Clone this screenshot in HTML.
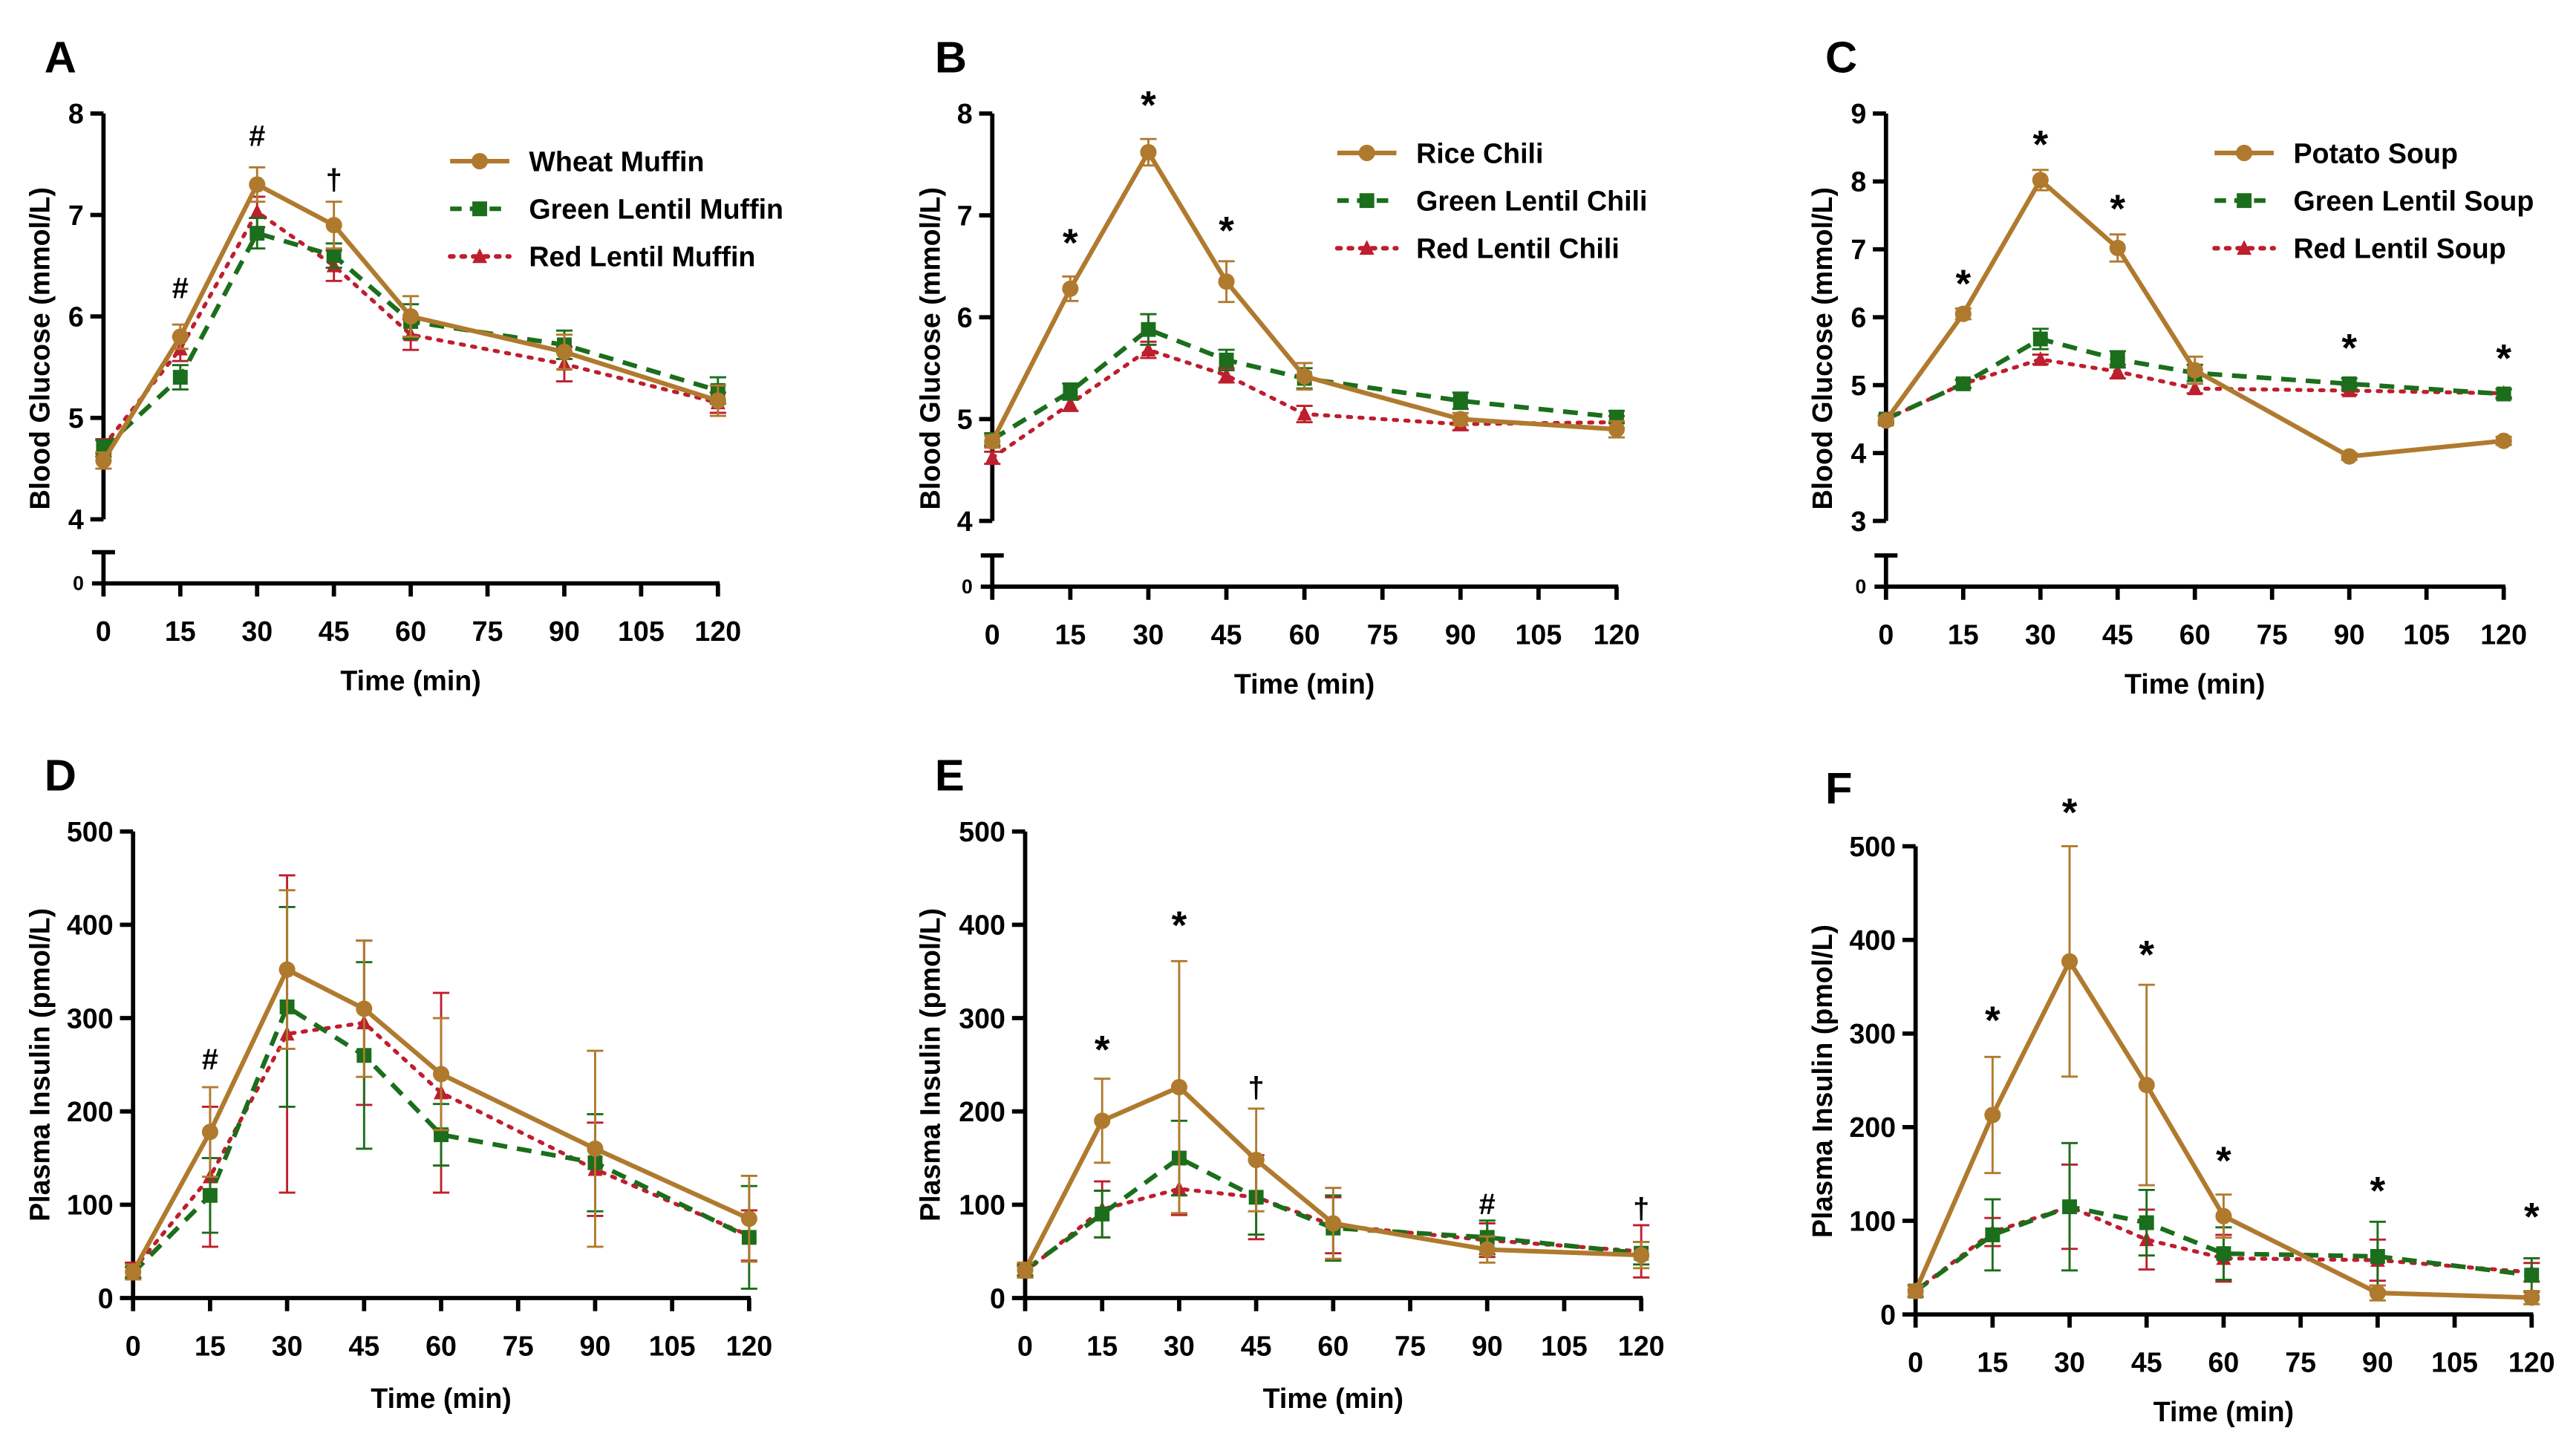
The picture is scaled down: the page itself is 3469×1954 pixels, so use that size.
<!DOCTYPE html>
<html><head><meta charset="utf-8">
<style>
html,body{margin:0;padding:0;background:#fff;}
svg{display:block;}
text{font-family:"Liberation Sans",Arial,sans-serif;font-weight:bold;fill:#000;}
</style></head>
<body>
<svg id="fig" width="3469" height="1954" viewBox="0 0 1568 883" xmlns="http://www.w3.org/2000/svg"></svg>
<script>
// ---------- data ----------
const times = [0, 15, 30, 45, 60, 90, 120];
const xTickLabels = [0, 15, 30, 45, 60, 75, 90, 105, 120];

// Panel A
const aWheat = [4.58, 5.80, 7.30, 6.90, 6.00, 5.65, 5.17];
const aWheatErr = [0.08, 0.12, 0.17, 0.23, 0.2, 0.17, 0.15];
const aGreen = [4.70, 5.40, 6.82, 6.60, 5.95, 5.72, 5.27];
const aGreenErr = [0.08, 0.12, 0.15, 0.12, 0.17, 0.14, 0.13];
const aRed = [4.72, 5.68, 7.03, 6.50, 5.82, 5.53, 5.15];
const aRedErr = [0.07, 0.12, 0.15, 0.15, 0.15, 0.17, 0.1];
const aAnnX = [15, 30, 45];
const aAnnY = [6.18, 7.68, 7.25];
const aAnnSym = ["#", "#", "†"];

// Panel B
const bRice = [4.78, 6.28, 7.62, 6.35, 5.42, 5.00, 4.90];
const bRiceErr = [0.06, 0.12, 0.13, 0.2, 0.13, 0.06, 0.08];
const bGreen = [4.80, 5.27, 5.88, 5.58, 5.40, 5.18, 5.02];
const bGreenErr = [0.06, 0.08, 0.15, 0.1, 0.1, 0.08, 0.06];
const bRed = [4.62, 5.15, 5.68, 5.43, 5.05, 4.95, 4.97];
const bRedErr = [0.06, 0.07, 0.08, 0.07, 0.08, 0.06, 0.06];
const bAnnX = [15, 30, 45];
const bAnnY = [6.6, 7.95, 6.72];
const bAnnSym = ["*", "*", "*"];

// Panel C
const cPotato = [4.48, 6.05, 8.02, 7.02, 5.22, 3.95, 4.18];
const cPotatoErr = [0.06, 0.08, 0.15, 0.2, 0.2, 0.05, 0.06];
const cGreen = [4.50, 5.02, 5.68, 5.38, 5.18, 5.02, 4.87];
const cGreenErr = [0.05, 0.06, 0.15, 0.12, 0.12, 0.08, 0.07];
const cRed = [4.50, 5.02, 5.38, 5.20, 4.95, 4.92, 4.88];
const cRedErr = [0.05, 0.06, 0.07, 0.1, 0.07, 0.06, 0.06];
const cAnnX = [15, 30, 45, 90, 120];
const cAnnY = [6.3, 8.35, 7.4, 5.35, 5.2];
const cAnnSym = ["*", "*", "*", "*", "*"];

// Panel D
const dWheat = [28, 178, 352, 310, 240, 160, 85];
const dWheatErr = [8, 48, 85, 73, 60, 105, 46];
const dGreen = [27, 110, 312, 260, 175, 145, 65];
const dGreenErr = [6, 40, 107, 100, 33, 52, 55];
const dRed = [30, 130, 283, 295, 220, 138, 67];
const dRedErr = [8, 75, 170, 88, 107, 50, 27];
const dAnnX = [15];
const dAnnY = [245];
const dAnnSym = ["#"];

// Panel E
const eRice = [30, 190, 226, 148, 80, 52, 46];
const eRiceErr = [8, 45, 135, 55, 38, 14, 14];
const eGreen = [30, 90, 150, 108, 75, 65, 48];
const eGreenErr = [6, 25, 40, 40, 35, 18, 12];
const eRed = [28, 95, 117, 108, 78, 62, 50];
const eRedErr = [6, 30, 28, 45, 30, 18, 28];
const eAnnX = [15, 30, 45, 90, 120];
const eAnnY = [252, 385, 215, 90, 85];
const eAnnSym = ["*", "*", "†", "#", "†"];

// Panel F
const fPotato = [25, 213, 377, 245, 105, 23, 18];
const fPotatoErr = [6, 62, 123, 107, 23, 8, 7];
const fGreen = [25, 85, 115, 98, 65, 62, 42];
const fGreenErr = [6, 38, 68, 35, 28, 37, 18];
const fRed = [25, 88, 115, 80, 60, 58, 45];
const fRedErr = [6, 15, 45, 32, 25, 22, 10];
const fAnnX = [15, 30, 45, 60, 90, 120];
const fAnnY = [300, 522, 370, 150, 118, 90];
const fAnnSym = ["*", "*", "*", "*", "*", "*"];

// ---------- drawing ----------
const NS = "http://www.w3.org/2000/svg";
const svg = document.getElementById("fig");
const BROWN = "#B07A2E", GREEN = "#1B6E1B", RED = "#BE1E2D";

function mk(tag, attrs, parent) {
  const e = document.createElementNS(NS, tag);
  for (const k in attrs) e.setAttribute(k, attrs[k]);
  (parent || svg).appendChild(e);
  return e;
}
function txt(str, x, y, size, anchor, parent) {
  const t = mk("text", {x: x, y: y, "font-size": size, "text-anchor": anchor || "middle"}, parent);
  t.textContent = str;
  return t;
}

function drawPanel(cfg) {
  const g = mk("g", {});
  
  
  const xs = t => cfg.x0 + (t / 120) * (cfg.x1 - cfg.x0);
  const ys = v => {
    if (cfg.glucose) return cfg.yTopPx + (cfg.yTopVal - v) * (cfg.yLowPx - cfg.yTopPx) / (cfg.yTopVal - cfg.yLowVal);
    return cfg.zeroPx - v * (cfg.zeroPx - cfg.topPx) / 500;
  };
  const axisY = cfg.glucose ? cfg.zeroPx : cfg.zeroPx;

  const lt = txt(cfg.letter, cfg.lx, cfg.ly, 27, "start", g);
  
  

  // axes
  const ax = mk("g", {stroke: "#000", "stroke-width": 2.6, fill: "none"}, g);
  
  
  mk("line", {x1: cfg.x0 - 1, y1: axisY, x2: cfg.x1 + 1, y2: axisY}, ax);
  xTickLabels.forEach(t => {
    mk("line", {x1: xs(t), y1: axisY, x2: xs(t), y2: axisY + 8}, ax);
    const l = txt(String(t), xs(t), cfg.xLabY, 17, "middle", g);
    
    
  });
  if (cfg.glucose) {
    mk("line", {x1: cfg.x0, y1: cfg.yTopPx, x2: cfg.x0, y2: cfg.yLowPx}, ax);
    mk("line", {x1: cfg.x0, y1: cfg.zeroPx - 19, x2: cfg.x0, y2: cfg.zeroPx}, ax);
    mk("line", {x1: cfg.x0 - 7, y1: cfg.zeroPx - 19, x2: cfg.x0 + 7, y2: cfg.zeroPx - 19}, ax);
    mk("line", {x1: cfg.x0 - 7, y1: cfg.zeroPx, x2: cfg.x0, y2: cfg.zeroPx}, ax);
    const l0 = txt("0", cfg.x0 - 12, cfg.zeroPx + 4, 12, "end", g);
    
    
    for (let v = cfg.yLowVal; v <= cfg.yTopVal; v++) {
      mk("line", {x1: cfg.x0 - 8, y1: ys(v), x2: cfg.x0, y2: ys(v)}, ax);
      const l = txt(String(v), cfg.x0 - 12, ys(v) + 6, 17, "end", g);
      
      
    }
  } else {
    mk("line", {x1: cfg.x0, y1: cfg.topPx, x2: cfg.x0, y2: cfg.zeroPx}, ax);
    for (let v = 0; v <= 500; v += 100) {
      mk("line", {x1: cfg.x0 - 8, y1: ys(v), x2: cfg.x0, y2: ys(v)}, ax);
      const l = txt(String(v), cfg.x0 - 12, ys(v) + 6, 17, "end", g);
      
      
    }
  }
  const xt = txt("Time (min)", (cfg.x0 + cfg.x1) / 2, cfg.xTitleY, 17, "middle", g);
  
  
  const yt = txt(cfg.yTitle, 0, 0, 17, "middle", g);
  yt.setAttribute("transform", `translate(${cfg.yTitleX},${cfg.yTitleC}) rotate(-90)`);
  
  

  // series (draw red, green, then main on top)
  const order = [2, 1, 0];
  order.forEach(i => {
    const s = cfg.series[i];
    const sg = mk("g", {}, g);
    
    
    // error bars
    s.vals.forEach((v, j) => {
      const x = xs(times[j]);
      const eb = mk("g", {stroke: s.color, "stroke-width": 1.3}, sg);
      
      
      mk("line", {x1: x, y1: ys(v - s.err[j]), x2: x, y2: ys(v + s.err[j])}, eb);
      mk("line", {x1: x - 5, y1: ys(v + s.err[j]), x2: x + 5, y2: ys(v + s.err[j])}, eb);
      mk("line", {x1: x - 5, y1: ys(v - s.err[j]), x2: x + 5, y2: ys(v - s.err[j])}, eb);
    });
    const pts = s.vals.map((v, j) => xs(times[j]) + "," + ys(v)).join(" ");
    const pl = mk("polyline", {points: pts, fill: "none", stroke: s.color, "stroke-width": s.dash === "dot" ? 2.4 : 2.8,
      "stroke-dasharray": s.dash === "solid" ? "none" : (s.dash === "dash" ? "9,6" : "2,5"), "stroke-linecap": s.dash === "dot" ? "round" : "butt"}, sg);
    
    
    s.vals.forEach((v, j) => {
      const m = marker(s.shape, xs(times[j]), ys(v), s.color, sg);
      
      
    });
  });

  // annotations
  cfg.annX.forEach((t, j) => {
    const a = txt(cfg.annSym[j], xs(t), ys(cfg.annY[j]), cfg.annSym[j] === "*" ? 24 : 18, "middle", g);
    
    
  });

  // legend
  if (cfg.legX) {
    cfg.series.forEach((s, i) => {
      const y = cfg.legY + i * 29;
      const lg = mk("g", {}, g);
      
      
      mk("line", {x1: cfg.legX, y1: y, x2: cfg.legX + 36, y2: y, stroke: s.color, "stroke-width": 2.8,
        "stroke-dasharray": s.dash === "solid" ? "none" : (s.dash === "dash" ? "7,5" : "2,5"), "stroke-linecap": s.dash === "dot" ? "round" : "butt"}, lg);
      marker(s.shape, cfg.legX + 18, y, s.color, lg);
      txt(s.name, cfg.legX + 48, y + 6, 17, "start", lg);
    });
  }
}

function marker(shape, x, y, color, parent) {
  if (shape === "circle") return mk("circle", {cx: x, cy: y, r: 5, fill: color}, parent);
  if (shape === "square") return mk("rect", {x: x - 4.5, y: y - 4.5, width: 9, height: 9, fill: color}, parent);
  return mk("polygon", {points: `${x},${y - 5} ${x - 4.5},${y + 4} ${x + 4.5},${y + 4}`, fill: color}, parent);
}

function ser(name, vals, err, color, shape, dash) { return {name, vals, err, color, shape, dash}; }

const gTitle = "Blood Glucose (mmol/L)", iTitle = "Plasma Insulin (pmol/L)";

drawPanel({letter: "A", lx: 27, ly: 44, glucose: true, x0: 63, x1: 437, yTopVal: 8, yLowVal: 4, yTopPx: 69, yLowPx: 316, zeroPx: 355,
  xLabY: 390, xTitleY: 420, yTitle: gTitle, yTitleX: 30, yTitleC: 212,
  series: [ser("Wheat Muffin", aWheat, aWheatErr, BROWN, "circle", "solid"), ser("Green Lentil Muffin", aGreen, aGreenErr, GREEN, "square", "dash"), ser("Red Lentil Muffin", aRed, aRedErr, RED, "triangle", "dot")],
  annX: aAnnX, annY: aAnnY, annSym: aAnnSym, legX: 274, legY: 98});
drawPanel({letter: "B", lx: 569, ly: 44, glucose: true, x0: 604, x1: 984, yTopVal: 8, yLowVal: 4, yTopPx: 69, yLowPx: 317, zeroPx: 357,
  xLabY: 392, xTitleY: 422, yTitle: gTitle, yTitleX: 572, yTitleC: 212,
  series: [ser("Rice Chili", bRice, bRiceErr, BROWN, "circle", "solid"), ser("Green Lentil Chili", bGreen, bGreenErr, GREEN, "square", "dash"), ser("Red Lentil Chili", bRed, bRedErr, RED, "triangle", "dot")],
  annX: bAnnX, annY: bAnnY, annSym: bAnnSym, legX: 814, legY: 93});
drawPanel({letter: "C", lx: 1111, ly: 44, glucose: true, x0: 1148, x1: 1524, yTopVal: 9, yLowVal: 3, yTopPx: 69, yLowPx: 317, zeroPx: 357,
  xLabY: 392, xTitleY: 422, yTitle: gTitle, yTitleX: 1115, yTitleC: 212,
  series: [ser("Potato Soup", cPotato, cPotatoErr, BROWN, "circle", "solid"), ser("Green Lentil Soup", cGreen, cGreenErr, GREEN, "square", "dash"), ser("Red Lentil Soup", cRed, cRedErr, RED, "triangle", "dot")],
  annX: cAnnX, annY: cAnnY, annSym: cAnnSym, legX: 1348, legY: 93});
drawPanel({letter: "D", lx: 27, ly: 481, glucose: false, x0: 81, x1: 456, topPx: 506, zeroPx: 790,
  xLabY: 825, xTitleY: 857, yTitle: iTitle, yTitleX: 30, yTitleC: 648,
  series: [ser("Wheat Muffin", dWheat, dWheatErr, BROWN, "circle", "solid"), ser("Green Lentil Muffin", dGreen, dGreenErr, GREEN, "square", "dash"), ser("Red Lentil Muffin", dRed, dRedErr, RED, "triangle", "dot")],
  annX: dAnnX, annY: dAnnY, annSym: dAnnSym});
drawPanel({letter: "E", lx: 569, ly: 481, glucose: false, x0: 624, x1: 999, topPx: 506, zeroPx: 790,
  xLabY: 825, xTitleY: 857, yTitle: iTitle, yTitleX: 572, yTitleC: 648,
  series: [ser("Rice Chili", eRice, eRiceErr, BROWN, "circle", "solid"), ser("Green Lentil Chili", eGreen, eGreenErr, GREEN, "square", "dash"), ser("Red Lentil Chili", eRed, eRedErr, RED, "triangle", "dot")],
  annX: eAnnX, annY: eAnnY, annSym: eAnnSym});
drawPanel({letter: "F", lx: 1111, ly: 489, glucose: false, x0: 1166, x1: 1541, topPx: 515, zeroPx: 800,
  xLabY: 835, xTitleY: 865, yTitle: iTitle, yTitleX: 1115, yTitleC: 658,
  series: [ser("Potato Soup", fPotato, fPotatoErr, BROWN, "circle", "solid"), ser("Green Lentil Soup", fGreen, fGreenErr, GREEN, "square", "dash"), ser("Red Lentil Soup", fRed, fRedErr, RED, "triangle", "dot")],
  annX: fAnnX, annY: fAnnY, annSym: fAnnSym});
</script>
</body></html>
